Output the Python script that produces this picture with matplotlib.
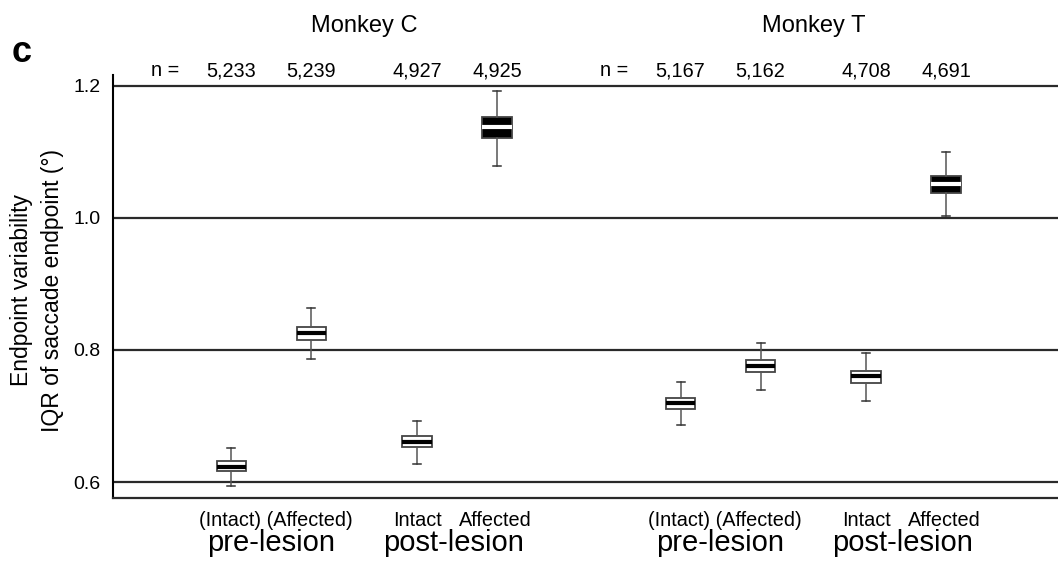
import matplotlib
matplotlib.use('Agg')
import matplotlib.pyplot as plt
import matplotlib.transforms as mtransforms

plt.rcParams['font.family'] = ['Liberation Sans', 'DejaVu Sans']

# Data (IQR of saccade endpoint, deg)
monkeys = ['Monkey C', 'Monkey T']
conditions = ['pre-lesion', 'post-lesion']
n_counts = ['5,233', '5,239', '4,927', '4,925', '5,167', '5,162', '4,708', '4,691']
whislo = [0.594, 0.786, 0.627, 1.079, 0.686, 0.740, 0.723, 1.002]
q1 = [0.616, 0.815, 0.653, 1.121, 0.711, 0.766, 0.750, 1.038]
med = [0.623, 0.825, 0.661, 1.137, 0.719, 0.776, 0.760, 1.051]
q3 = [0.632, 0.835, 0.670, 1.152, 0.727, 0.785, 0.768, 1.064]
whishi = [0.651, 0.863, 0.693, 1.192, 0.751, 0.811, 0.795, 1.100]
yticks = [0.6, 0.8, 1.0, 1.2]

# layout
pair_gap = 1.0
cond_gap = 1.32
monkey_gap = 5.6125
positions = []
for m in range(2):
    b = m * monkey_gap
    positions += [b, b + pair_gap, b + pair_gap + cond_gap, b + 2 * pair_gap + cond_gap]

fig = plt.figure(figsize=(10.58, 5.67), dpi=100)
ax = fig.add_axes([113 / 1058, 1 - 498 / 567, 945 / 1058, 423 / 567])

stats = []
for i in range(len(med)):
    stats.append(dict(whislo=whislo[i], q1=q1[i], med=med[i], q3=q3[i], whishi=whishi[i]))

for i, s in enumerate(stats):
    dark = (i % 4 == 3)
    ax.bxp([s], positions=[positions[i]], widths=0.37, showfliers=False,
           patch_artist=True,
           boxprops=dict(facecolor='black' if dark else 'white', edgecolor='#444444', linewidth=1.3),
           medianprops=dict(color='white' if dark else 'black', linewidth=3.0),
           whiskerprops=dict(color='#555555', linewidth=1.1),
           capprops=dict(color='#333333', linewidth=1.1),
           capwidths=0.1, zorder=3)

for y in yticks:
    ax.axhline(y, color='#2a2a2a', linewidth=1.6, zorder=1)

ax.set_xlim(-1.48, 10.33)
ax.set_ylim(0.5758, 1.2162)
ax.set_yticks(yticks)
ax.set_yticklabels(['%.1f' % y for y in yticks])
ax.set_xticks([])
ax.tick_params(axis='y', length=0, pad=9, labelsize=14)
ax.spines['top'].set_visible(False)
ax.spines['right'].set_visible(False)
ax.spines['left'].set_linewidth(1.5)
ax.spines['bottom'].set_linewidth(1.6)
ax.spines['bottom'].set_color('#2a2a2a')

trans = mtransforms.blended_transform_factory(ax.transData, ax.transAxes)
for m in range(2):
    p = positions[4 * m:4 * m + 4]
    ax.text((p[0] + p[3]) / 2, 1.1017, monkeys[m], transform=trans,
            ha='center', va='baseline', fontsize=17)
    ax.text(p[0] - 0.83, 0.9976, 'n =', transform=trans,
            ha='center', va='baseline', fontsize=14.3)
    for j in range(4):
        ax.text(p[j], 0.9976, n_counts[4 * m + j], transform=trans,
                ha='center', va='baseline', fontsize=14.3)
    ax.text((p[0] + p[1]) / 2 + 0.05, -0.0662, '(Intact) (Affected)', transform=trans,
            ha='center', va='baseline', fontsize=14.3)
    ax.text(p[2], -0.0662, 'Intact', transform=trans,
            ha='center', va='baseline', fontsize=14.3)
    ax.text(p[3] - 0.02, -0.0662, 'Affected', transform=trans,
            ha='center', va='baseline', fontsize=14.3)
    ax.text((p[0] + p[1]) / 2, -0.126, conditions[0], transform=trans,
            ha='center', va='baseline', fontsize=21)
    ax.text((p[2] + p[3]) / 2 - 0.05, -0.126, conditions[1], transform=trans,
            ha='center', va='baseline', fontsize=21)

fig.text(37 / 1058, 1 - 290 / 567, 'Endpoint variability\nIQR of saccade endpoint (°)',
         rotation=90, ha='center', va='center', multialignment='center',
         fontsize=16.5, linespacing=1.45)
fig.text(22 / 1058, 1 - 62 / 567, 'c', fontsize=26, fontweight='bold',
         ha='center', va='baseline')

fig.savefig('out.png', dpi=100)
